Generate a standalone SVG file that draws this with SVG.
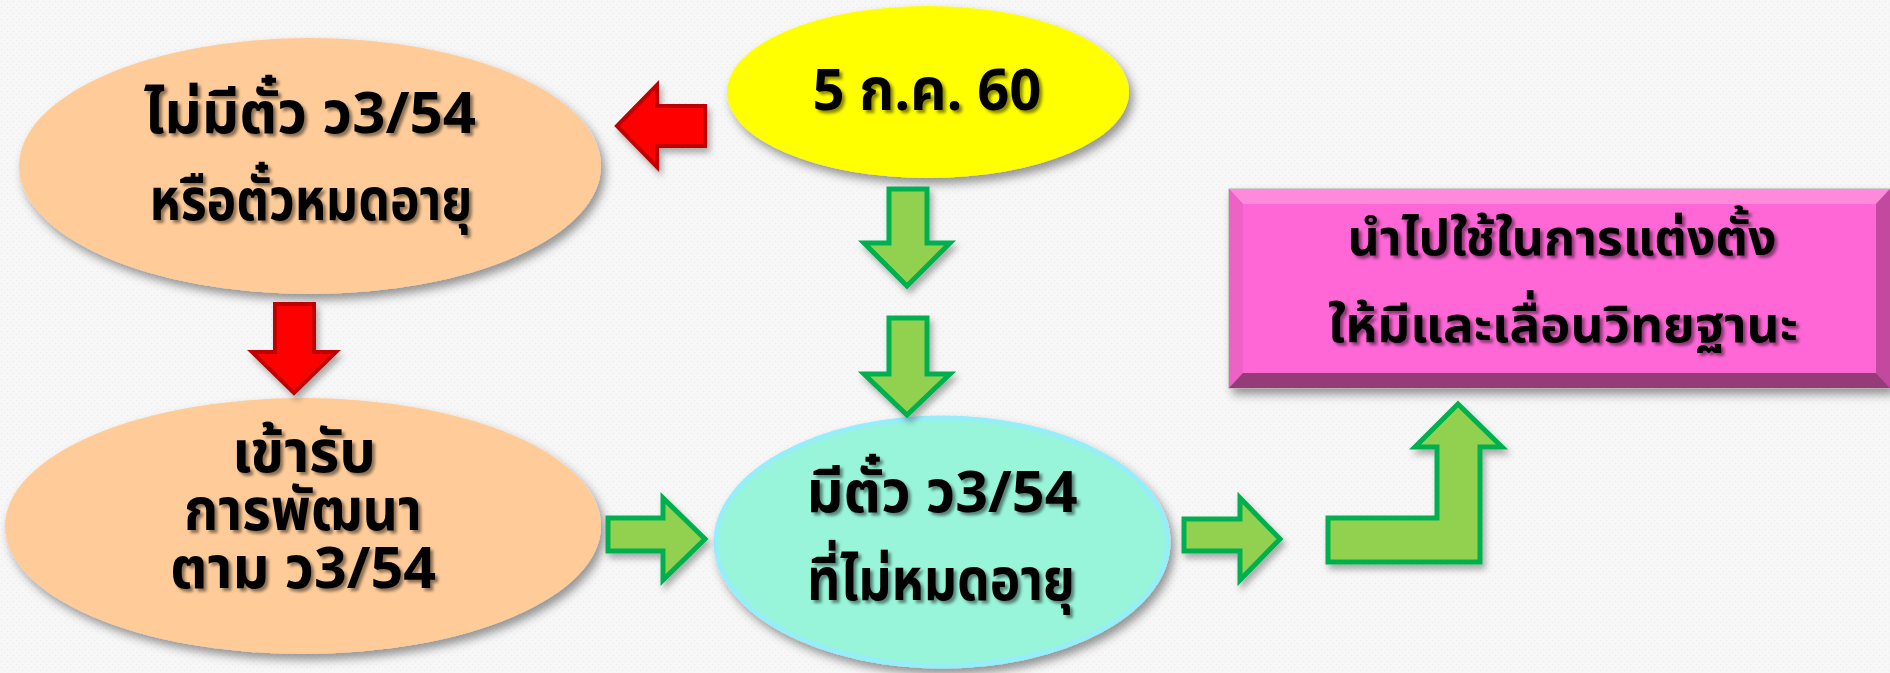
<svg xmlns="http://www.w3.org/2000/svg" width="1890" height="673" viewBox="0 0 1890 673">
  <defs>
    <pattern id="bgdots" width="6" height="6" patternUnits="userSpaceOnUse">
      <rect width="6" height="6" fill="#F7F7F7"/>
      <circle cx="1.5" cy="1.5" r="0.8" fill="#ECECEC"/>
      <circle cx="4.5" cy="4.5" r="0.8" fill="#EFEFEF"/>
    </pattern>
    <filter id="shapeShadow" x="-10%" y="-10%" width="125%" height="130%">
      <feDropShadow dx="4" dy="6" stdDeviation="5" flood-color="#000" flood-opacity="0.4"/>
    </filter>
    <filter id="arrowShadow" x="-20%" y="-20%" width="150%" height="150%">
      <feDropShadow dx="3" dy="5" stdDeviation="3" flood-color="#000" flood-opacity="0.3"/>
    </filter>
    <filter id="textShadow" x="-5%" y="-20%" width="115%" height="150%">
      <feDropShadow dx="3" dy="3" stdDeviation="1.6" flood-color="#000" flood-opacity="0.45"/>
    </filter>
  </defs>
  <style>
    .lbl { font-family: "Noto Sans Thai", "Noto Sans Thai Looped", "Noto Sans", "DejaVu Sans", sans-serif; font-weight: bold; fill: #000; text-anchor: middle; filter: url(#textShadow); }
    .big { font-size: 58px; }
    .mid { font-size: 50px; }
    .red { fill: #FF0000; stroke: #C00000; stroke-width: 4; stroke-linejoin: miter; filter: url(#arrowShadow); }
    .grn { fill: #92D050; stroke: #00B050; stroke-width: 5; stroke-linejoin: miter; filter: url(#arrowShadow); }
  </style>

  <rect x="0" y="0" width="1890" height="673" fill="url(#bgdots)"/>

  <g id="node-no-ticket">
    <ellipse cx="310" cy="166" rx="291" ry="128" fill="#FFCC99" filter="url(#shapeShadow)"/>
    <text class="lbl big" x="310" y="133" textLength="332" lengthAdjust="spacingAndGlyphs">ไม่มีตั๋ว ว3/54</text>
    <text class="lbl big" x="311" y="220" textLength="323" lengthAdjust="spacingAndGlyphs">หรือตั๋วหมดอายุ</text>
  </g>

  <g id="node-date">
    <ellipse cx="928" cy="92" rx="201" ry="86" fill="#FFFF00" filter="url(#shapeShadow)"/>
    <text class="lbl big" x="927" y="110" textLength="229" lengthAdjust="spacingAndGlyphs">5 ก.ค. 60</text>
  </g>

  <g id="node-training">
    <ellipse cx="303" cy="526" rx="298" ry="128" fill="#FFCC99" filter="url(#shapeShadow)"/>
    <text class="lbl big" x="304" y="472" textLength="144" lengthAdjust="spacingAndGlyphs">เข้ารับ</text>
    <text class="lbl big" x="303" y="530" textLength="238" lengthAdjust="spacingAndGlyphs">การพัฒนา</text>
    <text class="lbl big" x="303" y="588" textLength="266" lengthAdjust="spacingAndGlyphs">ตาม ว3/54</text>
  </g>

  <g id="node-has-ticket">
    <ellipse cx="942" cy="542" rx="226" ry="124" fill="#98F5DA" stroke="#95EEF8" stroke-width="5" filter="url(#shapeShadow)"/>
    <text class="lbl big" x="942" y="512" textLength="271" lengthAdjust="spacingAndGlyphs">มีตั๋ว ว3/54</text>
    <text class="lbl big" x="941" y="600" textLength="268" lengthAdjust="spacingAndGlyphs">ที่ไม่หมดอายุ</text>
  </g>

  <g id="node-use">
    <g filter="url(#shapeShadow)">
      <rect x="1229" y="189" width="661" height="199" fill="#E85CC4" stroke="#A9A9A9" stroke-width="1"/>
      <polygon points="1229,189 1890,189 1876,204 1243,204" fill="#FF8ADC"/>
      <polygon points="1229,189 1243,204 1243,373 1229,388" fill="#EE62C6"/>
      <polygon points="1890,189 1890,388 1876,373 1876,204" fill="#C24A9E"/>
      <polygon points="1229,388 1243,373 1876,373 1890,388" fill="#953A78"/>
      <rect x="1243" y="204" width="633" height="169" fill="#FF66D6"/>
    </g>
    <text class="lbl mid" x="1562" y="255" textLength="429" lengthAdjust="spacingAndGlyphs">นำไปใช้ในการแต่งตั้ง</text>
    <text class="lbl mid" x="1563" y="342" textLength="470" lengthAdjust="spacingAndGlyphs">ให้มีและเลื่อนวิทยฐานะ</text>
  </g>

  <g id="connectors">
    <path class="red" d="M617,126 L657,85 L657,106 L705,106 L705,146 L657,146 L657,167 Z"/>
    <path class="red" d="M275,304 L314,304 L314,352 L336,352 L294,393 L252,352 L275,352 Z"/>
    <path class="grn" d="M889,189 L927,189 L927,243 L950,243 L907,286 L864,243 L889,243 Z"/>
    <path class="grn" d="M889,318 L927,318 L927,374 L950,374 L907,415 L864,374 L889,374 Z"/>
    <path class="grn" d="M608,518 L663,518 L663,498 L705,539 L663,580 L663,551 L608,551 Z"/>
    <path class="grn" d="M1184,519 L1240,519 L1240,498 L1280,539 L1240,580 L1240,551 L1184,551 Z"/>
    <path class="grn" d="M1328,518 L1437,518 L1437,447 L1415,447 L1458,404 L1502,447 L1480,447 L1480,562 L1328,562 Z"/>
  </g>
</svg>
